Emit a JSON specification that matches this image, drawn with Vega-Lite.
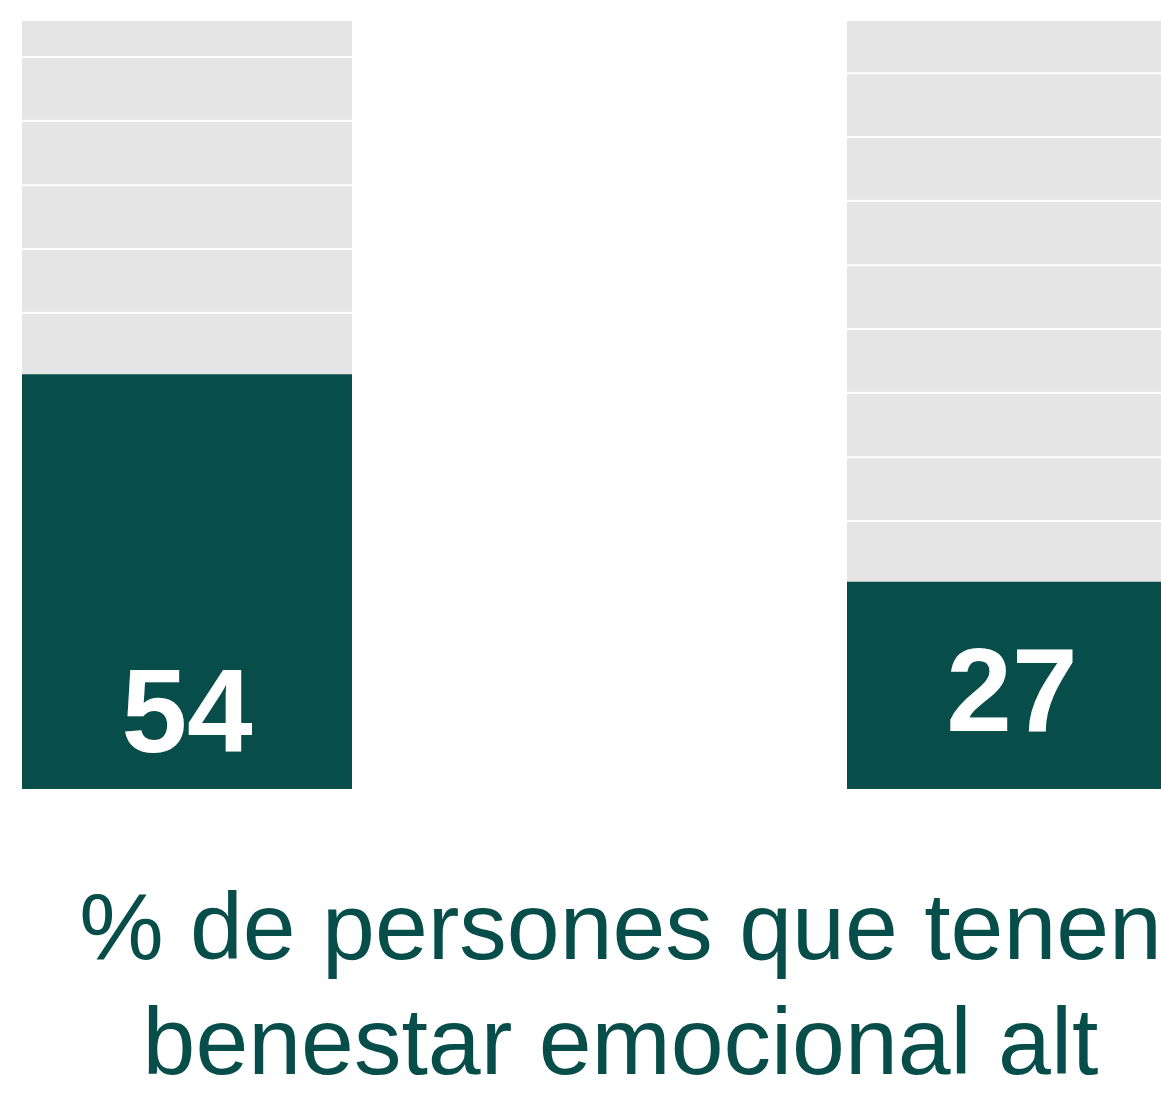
{
  "$schema": "https://vega.github.io/schema/vega-lite/v6.json",
  "width": 1161,
  "height": 768,
  "autosize": {"type": "none"},
  "padding": {"left": 0, "top": 21, "right": 0, "bottom": 305},
  "background": "white",
  "config": {"view": {"stroke": null}},
  "title": {
    "text": ["% de persones que tenen", "benestar emocional alt"],
    "orient": "bottom",
    "anchor": "middle",
    "baseline": "top",
    "offset": 95,
    "dx": 40,
    "font": "Liberation Sans",
    "fontSize": 95,
    "fontWeight": "normal",
    "lineHeight": 115,
    "color": "#074e4b"
  },
  "datasets": {
    "bars": [
      {"group": "A", "value": 54},
      {"group": "B", "value": 27}
    ],
    "dividers": [
      {"group": "A", "at": 62.0},
      {"group": "A", "at": 70.3},
      {"group": "A", "at": 78.6},
      {"group": "A", "at": 87.0},
      {"group": "A", "at": 95.3},
      {"group": "B", "at": 34.9},
      {"group": "B", "at": 43.2},
      {"group": "B", "at": 51.6},
      {"group": "B", "at": 59.9},
      {"group": "B", "at": 68.2},
      {"group": "B", "at": 76.6},
      {"group": "B", "at": 84.9},
      {"group": "B", "at": 93.2}
    ]
  },
  "encoding": {
    "x": {
      "field": "group",
      "type": "nominal",
      "axis": null,
      "scale": {"range": [0, 1199], "paddingInner": 0.6, "paddingOuter": 0.02667}
    }
  },
  "layer": [
    {
      "data": {"name": "bars"},
      "mark": {"type": "bar", "color": "#e5e5e5"},
      "encoding": {
        "y": {"datum": 100, "type": "quantitative", "axis": null, "scale": {"domain": [0, 100], "nice": false}},
        "y2": {"datum": 0}
      }
    },
    {
      "data": {"name": "dividers"},
      "mark": {"type": "tick", "orient": "horizontal", "size": 330, "thickness": 2, "color": "white", "opacity": 1},
      "encoding": {
        "y": {"field": "at", "type": "quantitative"}
      }
    },
    {
      "data": {"name": "bars"},
      "mark": {"type": "bar", "color": "#074e4b"},
      "encoding": {
        "y": {"field": "value", "type": "quantitative"},
        "y2": {"datum": 0}
      }
    },
    {
      "data": {"name": "bars"},
      "transform": [{"filter": "datum.group === 'A'"}],
      "mark": {"type": "text", "font": "Liberation Sans", "fontSize": 118, "fontWeight": "bold", "color": "white", "baseline": "alphabetic", "align": "center", "dy": -37},
      "encoding": {
        "y": {"datum": 0},
        "text": {"field": "value", "type": "quantitative"}
      }
    },
    {
      "data": {"name": "bars"},
      "transform": [{"filter": "datum.group === 'B'"}],
      "mark": {"type": "text", "font": "Liberation Sans", "fontSize": 118, "fontWeight": "bold", "color": "white", "baseline": "alphabetic", "align": "center", "dy": -58},
      "encoding": {
        "y": {"datum": 0},
        "text": {"field": "value", "type": "quantitative"}
      }
    }
  ]
}
